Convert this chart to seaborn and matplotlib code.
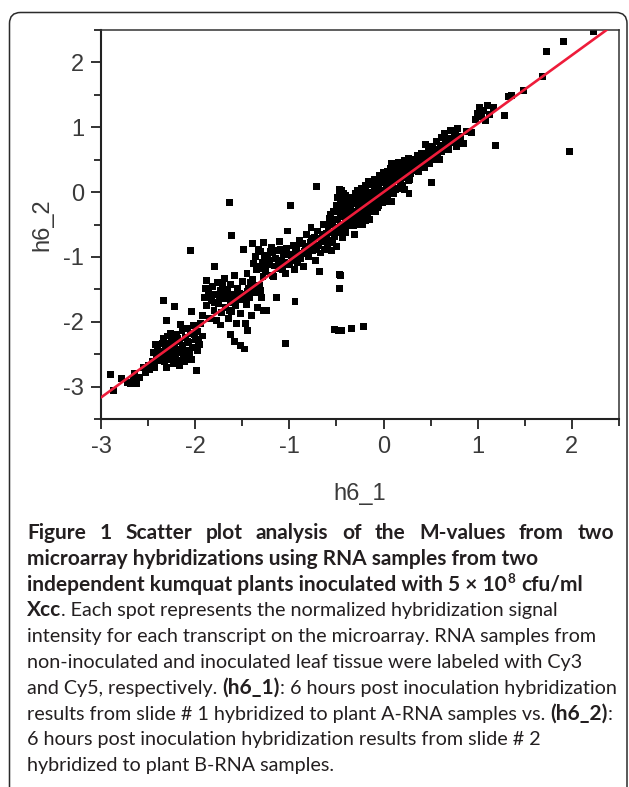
import matplotlib
matplotlib.use("Agg")
import matplotlib.pyplot as plt
import numpy as np
import pandas as pd
import seaborn as sns
from matplotlib.patches import FancyBboxPatch
from matplotlib.transforms import IdentityTransform
from matplotlib.ticker import MultipleLocator

### M-values (h6_1, h6_2), grouped by region
spots_tail = [(-2.90, -2.82), (-2.87, -3.06), (-2.78, -2.88), (-2.72, -2.93), (-2.69, -2.95),
              (-2.66, -2.90), (-2.64, -2.80), (-2.62, -2.96), (-2.59, -2.86), (-2.55, -2.70),
              (-2.53, -2.78), (-2.50, -2.67), (-2.48, -2.74), (-2.45, -2.62), (-2.43, -2.70),
              (-2.41, -2.58), (-2.40, -2.52)]

spots_low = [(-2.40, -2.40), (-2.38, -2.46), (-2.36, -2.55), (-2.35, -2.33), (-2.33, -2.62),
             (-2.32, -2.44), (-2.30, -2.50), (-2.30, -2.70), (-2.28, -2.38), (-2.27, -2.58),
             (-2.25, -2.28), (-2.25, -2.46), (-2.23, -2.65), (-2.22, -2.36), (-2.21, -2.52),
             (-2.20, -2.20), (-2.19, -2.42), (-2.18, -2.60), (-2.17, -2.30), (-2.15, -2.48),
             (-2.14, -2.14), (-2.13, -2.37), (-2.12, -2.56), (-2.10, -2.25), (-2.09, -2.44),
             (-2.08, -2.10), (-2.07, -2.32), (-2.06, -2.50), (-2.05, -2.18), (-2.03, -2.40),
             (-2.02, -2.06), (-2.00, -2.28), (-1.99, -2.75), (-1.98, -2.45), (-1.97, -2.15),
             (-1.95, -2.35), (-1.94, -2.02), (-1.92, -2.22), (-2.26, -2.18), (-2.34, -2.26),
             (-2.16, -2.04), (-2.44, -2.48), (-2.42, -2.35), (-2.11, -2.62), (-2.39, -2.60),
             (-2.31, -2.34), (-2.24, -2.56), (-2.19, -2.26), (-2.13, -2.46), (-2.08, -2.30),
             (-2.04, -2.58), (-2.01, -2.20), (-1.96, -2.30), (-2.29, -2.22), (-2.17, -2.68),
             (-2.34, -1.67), (-2.30, -1.98), (-2.22, -1.77), (-2.04, -1.84), (-2.05, -0.90),
             (-1.79, -1.15), (-1.88, -1.36), (-1.73, -2.05), (-1.58, -2.30), (-1.52, -2.36),
             (-1.48, -2.42), (-1.44, -2.13), (-1.04, -2.33), (-1.62, -2.20)]

spots_mid_low = [(-1.92, -1.90), (-1.90, -1.62), (-1.88, -1.75), (-1.86, -1.52), (-1.85, -1.95),
                 (-1.83, -1.68), (-1.82, -1.45), (-1.80, -1.82), (-1.78, -1.58), (-1.77, -1.98),
                 (-1.76, -1.40), (-1.75, -1.72), (-1.73, -1.52), (-1.72, -1.86), (-1.70, -1.64),
                 (-1.69, -1.34), (-1.68, -1.78), (-1.66, -1.50), (-1.65, -1.95), (-1.63, -1.70),
                 (-1.62, -1.42), (-1.61, -1.84), (-1.60, -1.58), (-1.58, -1.28), (-1.57, -1.75),
                 (-1.56, -2.02), (-1.55, -1.48), (-1.54, -1.66), (-1.52, -1.88), (-1.50, -1.38),
                 (-1.49, -1.58), (-1.47, -2.02), (-1.46, -1.74), (-1.45, -1.25), (-1.43, -1.48),
                 (-1.42, -1.62), (-1.40, -1.90), (-1.39, -1.35), (-1.37, -1.55), (-1.35, -1.20),
                 (-1.34, -1.78), (-1.32, -1.44), (-1.30, -1.62), (-1.28, -1.30), (-1.27, -1.82),
                 (-1.24, -1.82), (-1.14, -1.62), (-0.94, -1.69), (-1.18, -1.28), (-1.64, -0.16),
                 (-1.61, -0.67), (-1.49, -0.88), (-1.89, -1.48), (-1.84, -1.60), (-1.79, -1.70),
                 (-1.74, -1.62), (-1.71, -1.44), (-1.67, -1.60), (-1.64, -1.82), (-1.59, -1.66),
                 (-1.53, -1.56), (-1.48, -1.66), (-1.44, -1.54), (-1.41, -1.40), (-1.36, -1.46),
                 (-1.31, -1.52)]

spots_mid = [(-1.39, -0.80), (-1.36, -1.00), (-1.34, -1.15), (-1.31, -0.92), (-1.29, -1.08),
             (-1.27, -0.78), (-1.25, -1.22), (-1.23, -0.98), (-1.21, -1.12), (-1.19, -0.86),
             (-1.17, -1.30), (-1.15, -1.02), (-1.13, -0.90), (-1.11, -1.18), (-1.10, -0.76),
             (-1.08, -1.05), (-1.06, -0.95), (-1.04, -1.25), (-1.03, -0.87), (-1.02, -0.60),
             (-1.00, -1.12), (-0.99, -0.21), (-0.98, -0.98), (-0.96, -0.82), (-0.95, -1.20),
             (-0.93, -0.93), (-0.91, -1.08), (-0.89, -0.74), (-0.87, -0.95), (-0.85, -1.15),
             (-0.83, -0.84), (-0.82, -0.66), (-0.80, -1.00), (-0.78, -0.78), (-0.77, -0.55),
             (-0.75, -0.90), (-0.73, -0.70), (-0.72, -1.05), (-0.70, -0.60), (-0.69, -0.82),
             (-0.68, -1.22), (-0.66, -0.72), (-0.64, -0.50), (-0.63, -0.88), (-0.61, -0.64),
             (-0.71, 0.09), (-1.38, -1.10), (-1.33, -0.88), (-1.28, -1.18), (-1.22, -1.05),
             (-1.18, -0.94), (-1.12, -1.08), (-1.07, -1.20), (-1.01, -0.96), (-0.97, -1.06),
             (-0.92, -0.86), (-0.88, -1.02), (-0.84, -0.92), (-0.79, -0.88), (-0.74, -0.80),
             (-0.67, -0.94), (-0.62, -0.76), (-0.90, -0.98), (-0.86, -0.80), (-0.81, -0.94),
             (-0.76, -0.72), (-0.71, -0.88), (-0.65, -0.66), (-0.60, -0.82), (-1.26, -1.00),
             (-1.20, -0.92), (-1.16, -1.14), (-1.09, -0.88), (-1.05, -1.08)]

spots_core = [(-0.59, -0.55), (-0.58, -0.75), (-0.57, -0.40), (-0.56, -0.62), (-0.55, -0.90),
              (-0.54, -0.48), (-0.53, -0.30), (-0.52, -0.68), (-0.51, -0.55), (-0.50, -0.84),
              (-0.50, -0.20), (-0.49, -0.42), (-0.48, -0.60), (-0.47, -0.02), (-0.47, -1.27),
              (-0.47, -1.49), (-0.46, -0.32), (-0.45, -0.50), (-0.44, -0.12), (-0.44, -0.70),
              (-0.43, -0.38), (-0.42, -0.25), (-0.41, -0.58), (-0.40, -0.05), (-0.40, -0.45),
              (-0.39, -0.30), (-0.38, -0.15), (-0.37, -0.52), (-0.36, -0.38), (-0.35, -0.22),
              (-0.34, -0.08), (-0.33, -0.45), (-0.32, -0.30), (-0.31, -0.66), (-0.30, -0.18),
              (-0.29, -0.36), (-0.28, 0.02), (-0.27, -0.26), (-0.26, -0.10), (-0.25, -0.42),
              (-0.24, -0.20), (-0.23, 0.06), (-0.22, -0.32), (-0.21, -0.05), (-0.20, -0.24),
              (-0.19, 0.10), (-0.18, -0.14), (-0.17, -0.38), (-0.16, 0.00), (-0.15, -0.43),
              (-0.14, -0.22), (-0.13, 0.12), (-0.12, -0.08), (-0.11, -0.30), (-0.10, 0.04),
              (-0.09, -0.16), (-0.08, 0.18), (-0.07, -0.04), (-0.06, -0.24), (-0.05, 0.10),
              (-0.04, -0.10), (-0.03, 0.22), (-0.02, 0.02), (-0.01, -0.16), (0.00, 0.14),
              (0.01, 0.28), (0.02, -0.04), (0.03, 0.08), (0.04, 0.32), (0.05, 0.18),
              (0.06, -0.15), (0.07, 0.02), (0.08, 0.24), (0.09, 0.38), (0.10, 0.10),
              (0.11, -0.02), (0.12, 0.30), (0.13, 0.18), (0.14, 0.42), (0.15, 0.06),
              (0.16, 0.26), (0.17, 0.36), (0.18, 0.14), (0.19, 0.46), (0.20, 0.22),
              (0.21, 0.32), (0.22, 0.04), (0.23, 0.40), (0.24, 0.26), (0.25, 0.48),
              (0.26, 0.18), (0.27, -0.02), (0.28, 0.36), (0.29, 0.28), (0.30, 0.44),
              (-0.52, -2.12), (-0.48, -2.13), (-0.45, -2.13), (-0.34, -2.10), (-0.21, -2.07),
              (-0.46, -1.28), (0.08, -0.14), (-0.58, -0.50), (-0.56, -0.35), (-0.54, -0.78),
              (-0.52, -0.42), (-0.50, -0.62), (-0.48, -0.28), (-0.46, -0.52), (-0.44, -0.36),
              (-0.42, -0.08), (-0.40, -0.62), (-0.38, -0.42), (-0.36, -0.10), (-0.34, -0.30),
              (-0.32, -0.52), (-0.30, -0.02), (-0.28, -0.46), (-0.26, -0.30), (-0.24, -0.04),
              (-0.22, -0.50), (-0.20, -0.12), (-0.18, -0.30), (-0.16, 0.16), (-0.14, -0.05),
              (-0.12, -0.22), (-0.10, 0.20), (-0.08, -0.30), (-0.06, 0.06), (-0.04, 0.26),
              (-0.02, -0.08), (0.00, 0.30), (0.02, 0.16), (0.04, -0.08), (0.06, 0.26),
              (0.08, 0.44), (0.10, 0.18), (0.12, 0.40), (0.14, 0.22), (0.16, 0.46),
              (0.18, 0.30), (0.20, 0.10), (0.22, 0.48), (0.24, 0.34), (0.26, 0.52),
              (0.28, 0.20), (0.30, 0.36), (-0.47, 0.04), (-0.49, -0.08), (-0.45, 0.02),
              (-0.46, -0.18), (-0.44, -0.24), (-0.43, -0.02), (-0.41, -0.14), (-0.39, -0.52),
              (-0.37, -0.26), (-0.35, -0.46), (-0.33, -0.16), (-0.31, -0.40), (-0.29, -0.10),
              (-0.27, -0.50), (-0.25, -0.14), (-0.23, -0.36), (-0.21, -0.18), (-0.19, -0.44),
              (-0.17, -0.06), (-0.15, -0.26), (-0.13, -0.12), (-0.11, 0.14), (-0.09, -0.02),
              (-0.07, 0.12), (-0.05, -0.20), (0.03, 0.22), (0.05, 0.04), (0.07, 0.36),
              (0.09, 0.12), (0.11, 0.26), (0.13, 0.04), (0.15, 0.34), (0.17, 0.20),
              (0.19, 0.30), (0.21, 0.42)]

spots_high = [(0.32, 0.50), (0.34, 0.34), (0.36, 0.56), (0.38, 0.42), (0.40, 0.60),
              (0.42, 0.48), (0.44, 0.38), (0.45, 0.73), (0.46, 0.56), (0.48, 0.64),
              (0.49, 0.44), (0.51, 0.15), (0.52, 0.70), (0.54, 0.58), (0.56, 0.78),
              (0.58, 0.66), (0.59, 0.50), (0.61, 0.84), (0.63, 0.72), (0.65, 0.90),
              (0.67, 0.76), (0.69, 0.66), (0.71, 0.95), (0.73, 0.82), (0.75, 0.88),
              (0.77, 0.70), (0.79, 0.98), (0.82, 0.86), (0.85, 0.75), (0.88, 0.94),
              (0.93, 0.92), (0.98, 1.12), (1.00, 1.22), (1.02, 1.30), (1.04, 1.16),
              (1.06, 1.26), (1.08, 1.10), (1.10, 1.34), (1.13, 1.20), (1.17, 1.30),
              (1.19, 0.72), (1.28, 1.18), (1.33, 1.47), (1.36, 1.49), (1.49, 1.56),
              (1.69, 1.78), (1.73, 2.17), (1.91, 2.32), (2.23, 2.47), (1.975, 0.625),
              (0.33, 0.40), (0.35, 0.48), (0.37, 0.32), (0.39, 0.52), (0.41, 0.40),
              (0.43, 0.58), (0.47, 0.48), (0.50, 0.60), (0.53, 0.50), (0.55, 0.66),
              (0.57, 0.56), (0.60, 0.72), (0.62, 0.62), (0.66, 0.82), (0.68, 0.70),
              (0.72, 0.76), (0.76, 0.92), (0.80, 0.80)]

# fitted line (red)
fit_slope = 1.056
fit_intercept = 0.0
fit_x = [-3.0, 2.37]

x_ticks = [-3, -2, -1, 0, 1, 2]
y_ticks = [-3, -2, -1, 0, 1, 2]
x_label = "h6_1"
y_label = "h6_2"

caption_lines = [
    [("Figure 1 Scatter plot analysis of the M-values from two", "bold", 0)],
    [("microarray hybridizations using RNA samples from two", "bold", 0)],
    [("independent kumquat plants inoculated with 5 \u00d7 10", "bold", 0), ("8", "bold", 1),
     (" cfu/ml", "bold", 0)],
    [("Xcc", "bold", 0), (". Each spot represents the normalized hybridization signal", "normal", 0)],
    [("intensity for each transcript on the microarray. RNA samples from", "normal", 0)],
    [("non-inoculated and inoculated leaf tissue were labeled with Cy3", "normal", 0)],
    [("and Cy5, respectively. ", "normal", 0), ("(h6_1)", "bold", 0),
     (": 6 hours post inoculation hybridization", "normal", 0)],
    [("results from slide # 1 hybridized to plant A-RNA samples vs. ", "normal", 0),
     ("(h6_2)", "bold", 0), (":", "normal", 0)],
    [("6 hours post inoculation hybridization results from slide # 2", "normal", 0)],
    [("hybridized to plant B-RNA samples.", "normal", 0)],
]

W, H = 629, 787
CAP_FONT = ["Lato", "DejaVu Sans"]
CAP_SIZE = 14.2
BOLD_SIZE = 15.0
INK = "#231f20"
AX_TXT = "#3a3a3a"

sns.set_style("ticks")
plt.rcParams["font.family"] = ["Liberation Sans", "DejaVu Sans"]
plt.rcParams["axes.unicode_minus"] = False

fig = plt.figure(figsize=(W / 100, H / 100), dpi=100)
fig.patch.set_facecolor("white")

# rounded frame around the whole figure
frame = FancyBboxPatch((9.5, -30), 617.5, 787 - 12.5 + 30, boxstyle="round,pad=0,rounding_size=11",
                       transform=IdentityTransform(), fill=False, edgecolor="#2b2b2b", linewidth=1.1)
fig.add_artist(frame)

ax = fig.add_axes([101 / W, 1 - 419 / H, 518 / W, 389 / H])

pts = spots_tail + spots_low + spots_mid_low + spots_mid + spots_core + spots_high
df = pd.DataFrame(pts, columns=[x_label, y_label])
sns.scatterplot(data=df, x=x_label, y=y_label, marker="s", s=25, color="black",
                edgecolor="none", linewidth=0, ax=ax, zorder=2)

fit_y = [fit_slope * v + fit_intercept for v in fit_x]
sns.lineplot(x=fit_x, y=fit_y, color="#ee1c3a", linewidth=1.9, ax=ax, zorder=3)

ax.set_xlim(-3, 2.5)
ax.set_ylim(-3.5, 2.5)
ax.set_xticks(x_ticks)
ax.set_yticks(y_ticks)
ax.xaxis.set_minor_locator(MultipleLocator(0.5))
ax.yaxis.set_minor_locator(MultipleLocator(0.5))
ax.tick_params(which="major", length=7, width=1.3, colors="#222222", labelsize=17,
               labelcolor=AX_TXT, pad=5)
ax.tick_params(which="minor", length=5, width=1.3, colors="#222222")
for side in ["left", "bottom"]:
    ax.spines[side].set_linewidth(1.5)
    ax.spines[side].set_color("#222222")
for side in ["top", "right"]:
    ax.spines[side].set_linewidth(1.1)
    ax.spines[side].set_color("#333333")
ax.set_xlabel(x_label, fontsize=17, color=AX_TXT, labelpad=18)
ax.set_ylabel(y_label, fontsize=17, color=AX_TXT, labelpad=7)

# caption, drawn run by run
renderer = fig.canvas.get_renderer()


def text_w(s, weight, size):
    t = fig.text(0, 0, s, fontsize=size, fontweight=weight, family=CAP_FONT)
    w = t.get_window_extent(renderer).width
    t.remove()
    return w


def space_w(weight, size):
    return text_w("n n", weight, size) - text_w("nn", weight, size)


def put(x, y, s, weight, size):
    t = fig.text(x / W, 1 - y / H, s, fontsize=size, fontweight=weight, family=CAP_FONT,
                 color=INK, ha="left", va="baseline")
    return t.get_window_extent(renderer).width


left, right = 27, 614
for i, runs in enumerate(caption_lines):
    base = 539 + 25.8 * i
    if i == 0:
        words = runs[0][0].split()
        widths = [text_w(wd, "bold", BOLD_SIZE) for wd in words]
        gap = (right - left - sum(widths)) / (len(words) - 1)
        x = left
        for wd, ww in zip(words, widths):
            put(x, base, wd, "bold", BOLD_SIZE)
            x += ww + gap
        continue
    x = left
    for s, weight, sup in runs:
        size = BOLD_SIZE if weight == "bold" else CAP_SIZE
        sw = space_w(weight, size)
        lead = len(s) - len(s.lstrip(" "))
        trail = len(s) - len(s.rstrip(" "))
        core = s.strip(" ")
        x += lead * sw
        if sup:
            x += put(x + 1, base - 8, core, weight, size * 0.65) + 2
        else:
            x += put(x, base, core, weight, size)
        x += trail * sw

fig.savefig("out.png", dpi=100)
